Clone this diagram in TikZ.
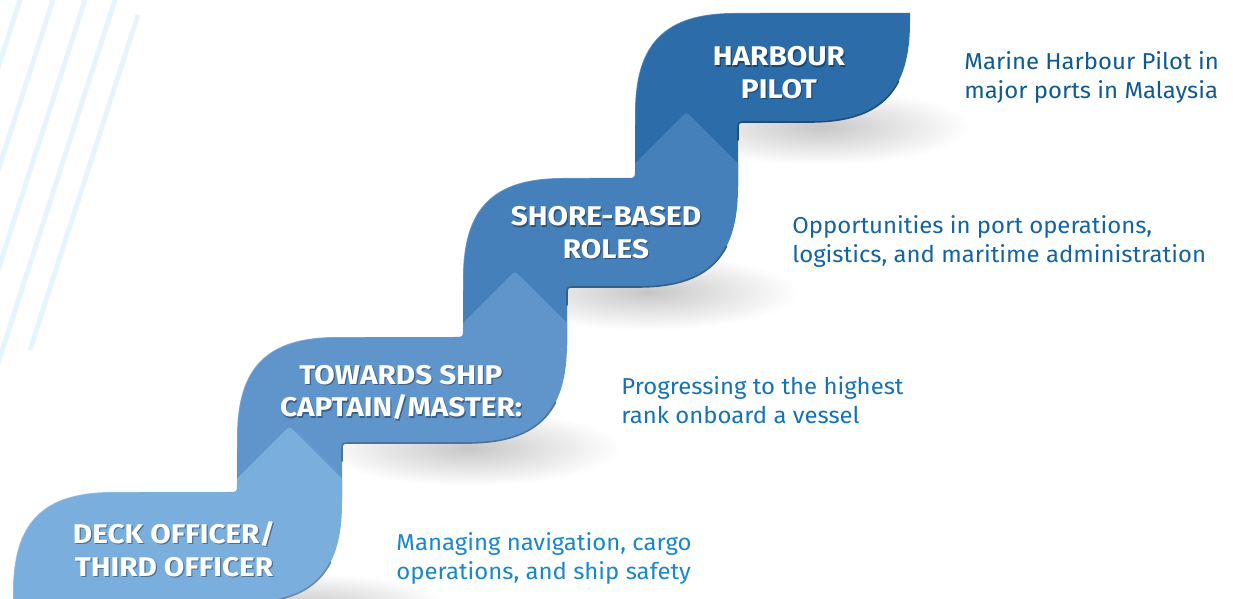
\documentclass[tikz,border=0pt]{standalone}
\usepackage{fontspec}
\setmainfont{Fira Sans}
\newfontfamily\labfont{Fira Sans}[FakeStretch=1.1]
\newfontfamily\descfont{Fira Sans}[FakeStretch=1.04]
\definecolor{s1}{HTML}{7AAEDD}
\definecolor{s2}{HTML}{5F95CA}
\definecolor{s3}{HTML}{4580BA}
\definecolor{s4}{HTML}{2C6CA8}
\definecolor{t1}{HTML}{1987C8}
\definecolor{t2}{HTML}{1473B4}
\definecolor{t3}{HTML}{1464A0}
\definecolor{t4}{HTML}{0E5A91}
\definecolor{stripe}{HTML}{E6F4FB}
\tikzset{
  lab/.style={font=\labfont\fontsize{13.5}{16.3}\selectfont\bfseries, text=white, align=center, inner sep=0pt},
  labsh/.style={lab, text=black, opacity=0.35},
  desc/.style={font=\descfont\fontsize{11.5}{14.3}\selectfont, align=left, anchor=north west, inner sep=0pt},
  stripeline/.style={draw=stripe, line width=2.4pt},
  shadowblob/.style={inner color=black!22, outer color=white},
  edgeline/.style={line width=0.8pt, line cap=round},
  hilite/.style={draw=white, draw opacity=0.22, line width=0.7pt}
}
\begin{document}
\begin{tikzpicture}[x=0.5pt,y=-0.5pt]
\useasboundingbox (0,0) rectangle (1233,599);
\clip (0,0) rectangle (1233,599);
\fill[white] (0,0) rectangle (1233,599);
% shadows
\shade[shadowblob] (820,127) ellipse (150 and 38);
\shade[shadowblob] (648,292) ellipse (150 and 38);
\shade[shadowblob] (470,448) ellipse (150 and 38);
\shade[shadowblob] (300,607) ellipse (150 and 34);
% stripes
\draw[stripeline] (23.2,-10) -- (-5,77.6);
\draw[stripeline] (56.2,-10) -- (-5,180);
\draw[stripeline] (88.2,-10) -- (-5,279.5);
\draw[stripeline] (118.2,-10) -- (-5,372.7);
\draw[stripeline] (138,15) -- (30,350);
% step 4
\fill[s4] (635,186) -- (635,113) .. controls (635,43) and (665,13) .. (735,13) -- (910,13) -- (910,22) .. controls (910,92) and (880,122) .. (810,122) -- (746,122) .. controls (738,122) .. (738,130) -- (738,186) -- cycle;
\draw[edgeline, s4!72!black] (898.6,81.2) .. controls (884.3,109.3) and (855.5,122) .. (810,122) -- (746,122) .. controls (738,122) .. (738,130) -- (738,140);
\draw[hilite] (635,125) -- (635,113) .. controls (635,43) and (665,13) .. (735,13) -- (760,13);
% step 3
\fill[s3] (463,345) -- (463,278) .. controls (463,208) and (493,178) .. (563,178) -- (627,178) .. controls (635,178) .. (635,170) -- (635,163.5) -- (680.5,118) .. controls (686.5,112) .. (692.5,118) -- (738,163.5) -- (738,187) .. controls (738,257) and (708,287) .. (638,287) -- (575,287) .. controls (567,287) .. (567,295) -- (567,345) -- cycle;
\draw[edgeline, s3!75!black] (726.6,246.2) .. controls (712.3,274.3) and (683.5,287) .. (638,287) -- (575,287) .. controls (567,287) .. (567,295) -- (567,305);
\draw[hilite] (463,290) -- (463,278) .. controls (463,208) and (493,178) .. (563,178) -- (590,178);
% step 2
\fill[s2] (237,500) -- (237,437) .. controls (237,367) and (267,337) .. (337,337) -- (455,337) .. controls (463,337) .. (463,329) -- (463,323) -- (509,277) .. controls (515,271) .. (521,277) -- (567,323) -- (567,343) .. controls (567,413) and (537,443) .. (467,443) -- (350,443) .. controls (342,443) .. (342,451) -- (342,500) -- cycle;
\draw[edgeline, s2!78!black] (555.6,402.2) .. controls (541.3,430.3) and (512.5,443) .. (467,443) -- (350,443) .. controls (342,443) .. (342,451) -- (342,461);
\draw[hilite] (237,450) -- (237,437) .. controls (237,367) and (267,337) .. (337,337) -- (365,337);
% step 1
\fill[s1] (13,610) -- (13,592) .. controls (13,522) and (43,492) .. (113,492) -- (229,492) .. controls (237,492) .. (237,484) -- (237,478.5) -- (283.5,432) .. controls (289.5,426) .. (295.5,432) -- (342,478.5) -- (342,503) .. controls (342,573) and (312,603) .. (242,603) -- (242,610) -- cycle;
\draw[edgeline, s1!80!black] (330.6,562.2) .. controls (316.3,590.3) and (287.5,603) .. (242,603);
\draw[hilite] (13,605) -- (13,592) .. controls (13,522) and (43,492) .. (113,492) -- (140,492);
% labels
\node[labsh] (l4s) at (780.2,74) {HARBOUR\\PILOT};
\node[lab] (l4) at (779,72.5) {HARBOUR\\PILOT};
\node[labsh] (l3s) at (607.2,234) {SHORE-BASED\\ROLES};
\node[lab] (l3) at (606,232.5) {SHORE-BASED\\ROLES};
\node[labsh] (l2s) at (402.2,394) {TOWARDS SHIP\\CAPTAIN/MASTER:};
\node[lab] (l2) at (401,392.5) {TOWARDS SHIP\\CAPTAIN/MASTER:};
\node[labsh] (l1s) at (175.2,550.5) {DECK OFFICER/\\THIRD OFFICER};
\node[lab] (l1) at (174,549) {DECK OFFICER/\\THIRD OFFICER};
% descriptions
\node[desc, text=t4] (d4) at (964,51.5) {Marine Harbour Pilot in\\major ports in Malaysia};
\node[desc, text=t3] (d3) at (792,215.5) {Opportunities in port operations,\\logistics, and maritime administration};
\node[desc, text=t2] (d2) at (621,376.5) {Progressing to the highest\\rank onboard a vessel};
\node[desc, text=t1] (d1) at (396,532.5) {Managing navigation, cargo\\operations, and ship safety};
\end{tikzpicture}
\end{document}
